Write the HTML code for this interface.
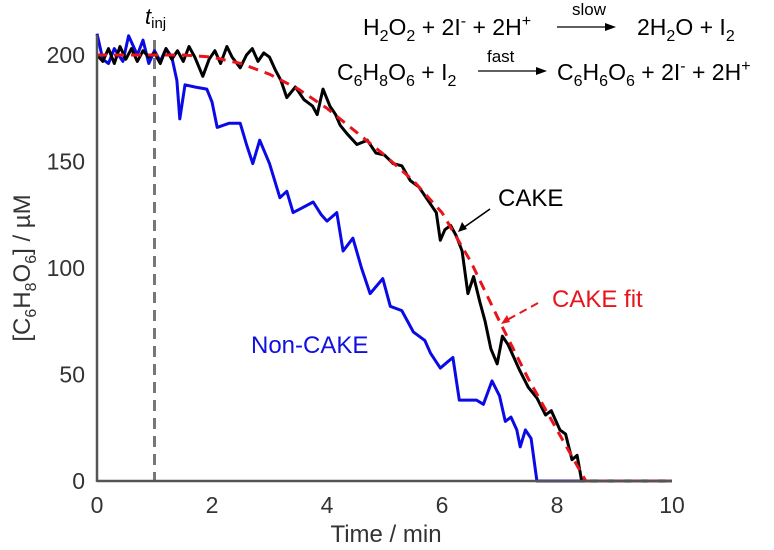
<!DOCTYPE html>
<html><head><meta charset="utf-8"><style>
body{margin:0;background:#fff}
svg{display:block;font-family:"Liberation Sans",Arial,sans-serif}
</style></head><body>
<svg id="c" width="774" height="550" viewBox="0 0 774 550">
<g id="plot"></g>
<g font-size="23" fill="#000">
<text x="363" y="35">H<tspan dy="6" font-size="16">2</tspan><tspan dy="-6">O</tspan><tspan dy="6" font-size="16">2</tspan><tspan dy="-6"> + 2I</tspan><tspan dy="-9" font-size="16">-</tspan><tspan dy="9"> + 2H</tspan><tspan dy="-9" font-size="16">+</tspan></text>
<text x="572" y="15" font-size="17">slow</text>
<line x1="557" y1="27" x2="612" y2="27" stroke="#000" stroke-width="1.3"/><path d="M616,27 l-11,-4 v8z" fill="#000"/>
<text x="637" y="35">2H<tspan dy="6" font-size="16">2</tspan><tspan dy="-6">O + I</tspan><tspan dy="6" font-size="16">2</tspan></text>
<text x="487" y="62" font-size="17">fast</text>
<line x1="478" y1="71" x2="543" y2="71" stroke="#000" stroke-width="1.3"/><path d="M547,71 l-11,-4 v8z" fill="#000"/>
<text x="337" y="80">C<tspan dy="6" font-size="16">6</tspan><tspan dy="-6">H</tspan><tspan dy="6" font-size="16">8</tspan><tspan dy="-6">O</tspan><tspan dy="6" font-size="16">6</tspan><tspan dy="-6"> + I</tspan><tspan dy="6" font-size="16">2</tspan></text>
<text x="557" y="80">C<tspan dy="6" font-size="16">6</tspan><tspan dy="-6">H</tspan><tspan dy="6" font-size="16">6</tspan><tspan dy="-6">O</tspan><tspan dy="6" font-size="16">6</tspan><tspan dy="-6"> + 2I</tspan><tspan dy="-9" font-size="16">-</tspan><tspan dy="9"> + 2H</tspan><tspan dy="-9" font-size="16">+</tspan></text>
</g>
<text x="145" y="24" font-size="22" font-style="italic">t<tspan font-size="15" font-style="normal" dy="4">inj</tspan></text>
<text x="498" y="206" font-size="24">CAKE</text>
<line x1="490" y1="209" x2="463" y2="228" stroke="#000" stroke-width="1.6"/><path d="M458,232 l4,-10 l5,7z" fill="#000"/>
<text x="552" y="307" font-size="24" fill="#e8141c">CAKE fit</text>
<line x1="538" y1="303" x2="507" y2="320" stroke="#e8141c" stroke-width="2" stroke-dasharray="8,5"/><path d="M501,324 l6,-9 l3,7z" fill="#e8141c"/>
<text x="251" y="353" font-size="24" fill="#1010e0">Non-CAKE</text>
<text x="386" y="542" font-size="24" text-anchor="middle" fill="#333">Time / min</text>
<text transform="translate(30,268) rotate(-90)" font-size="24" text-anchor="middle" fill="#333">[C<tspan dy="6" font-size="16">6</tspan><tspan dy="-6">H</tspan><tspan dy="6" font-size="16">8</tspan><tspan dy="-6">O</tspan><tspan dy="6" font-size="16">6</tspan><tspan dy="-6">] / µM</tspan></text>
</svg>
<script>
const xTicks=[0,2,4,6,8,10];
const yTicks=[0,50,100,150,200];
const tInj=1;
const cakeT=[0,0.1,0.2,0.3,0.4,0.5,0.6,0.7,0.8,0.9,1.0,1.1,1.2,1.3,1.4,1.5,1.6,1.7,1.84,1.95,2.05,2.15,2.26,2.35,2.49,2.6,2.7,2.8,2.9,3.0,3.1,3.2,3.3,3.45,3.6,3.75,3.83,3.93,4.05,4.15,4.23,4.35,4.52,4.7,4.85,5.0,5.15,5.3,5.45,5.6,5.75,5.9,5.97,6.05,6.15,6.25,6.35,6.45,6.55,6.66,6.75,6.85,6.96,7.05,7.15,7.25,7.35,7.5,7.65,7.8,7.9,8.05,8.15,8.26,8.35,8.43,10];
const cakeV=[200,197,203,196,204,198,203,197,202,199,201,196,203,198,202,197,204,199,190,198,202,196,204,199,194,200,203,197,201,199,193,188,180,185,179,176,172,184,176,172,167,163,158,160,154,153,149,148,141,138,132,126,113,118,120,115,108,88,96,84,75,62,55,68,64,58,52,44,39,31,33,24,22,10,12,0,0];
const fitT=[0,1.5,2,2.5,3,3.5,4,4.5,5,5.5,6,6.5,7,7.5,8,8.5,10];
const fitV=[200,200,199,196,191,184,175,164,153,141,126,103,75,48,24,0,0];
const nonT=[0,0.1,0.2,0.3,0.45,0.55,0.7,0.8,0.9,1.0,1.1,1.2,1.3,1.39,1.44,1.53,1.7,1.91,2.0,2.09,2.3,2.49,2.6,2.71,2.83,3.0,3.18,3.3,3.41,3.55,3.76,3.9,4.0,4.17,4.28,4.45,4.6,4.75,4.97,5.1,5.3,5.5,5.7,5.8,5.97,6.1,6.19,6.3,6.45,6.6,6.72,6.87,7.0,7.1,7.2,7.3,7.36,7.45,7.55,7.65,10];
const nonV=[210,198,196,203,197,209,200,207,196,202,197,203,199,188,170,186,185,184,178,166,168,168,158,149,160,149,133,136,126,128,131,125,122,126,108,114,100,88,95,82,80,70,66,60,53,56,58,38,38,38,36,47,40,28,30,24,16,24,20,0,0];
const X=v=>97+v*57.5, Y=v=>481-v*2.13;
const NS='http://www.w3.org/2000/svg';
const plot=document.getElementById('plot');
function mk(tag,attrs){const e=document.createElementNS(NS,tag);for(const k in attrs)e.setAttribute(k,attrs[k]);plot.appendChild(e);return e;}
function pts(T,V){return T.map((t,i)=>X(t).toFixed(1)+','+Y(V[i]).toFixed(1)).join(' ');}
const inj=mk('line',{x1:X(tInj),x2:X(tInj),y1:40,y2:481,stroke:'#777','stroke-width':3,'stroke-dasharray':'11,7'});


const nl=mk('polyline',{points:pts(nonT,nonV),fill:'none',stroke:'#0a0ae6','stroke-width':3,'stroke-linejoin':'round'});


const cl=mk('polyline',{points:pts(cakeT,cakeV),fill:'none',stroke:'#000','stroke-width':3,'stroke-linejoin':'round'});


const fl=mk('polyline',{points:pts(fitT,fitV),fill:'none',stroke:'#e8141c','stroke-width':3,'stroke-dasharray':'10,7'});


const xa=mk('line',{x1:97,x2:X(10),y1:481,y2:481,stroke:'#555','stroke-width':2.5});


const ya=mk('line',{x1:97,x2:97,y1:35,y2:482,stroke:'#555','stroke-width':2.5});


xTicks.forEach(t=>{const e=mk('text',{x:X(t),y:513,'font-size':23,'text-anchor':'middle',fill:'#333'});e.textContent=t;

});
yTicks.forEach(t=>{const e=mk('text',{x:85,y:Y(t)+8,'font-size':23,'text-anchor':'end',fill:'#333'});e.textContent=t;

});
</script>
</body></html>
